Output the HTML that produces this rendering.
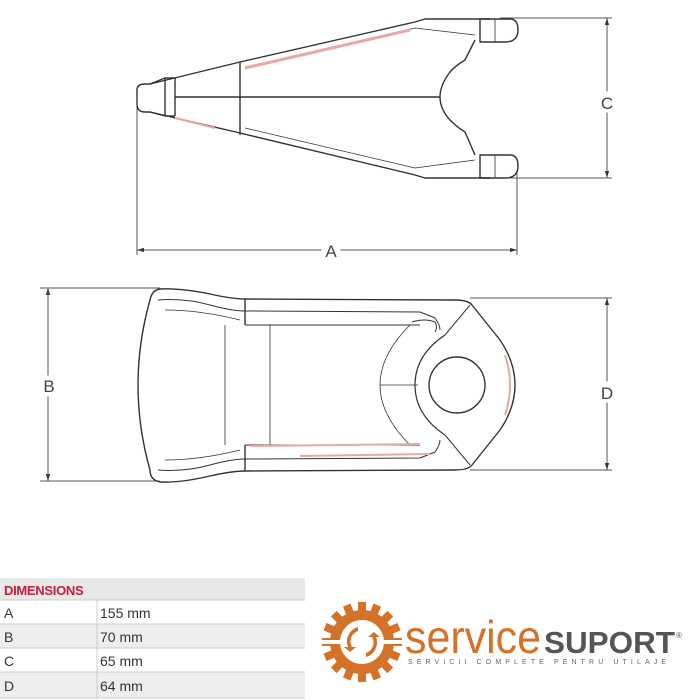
<!DOCTYPE html>
<html><head><meta charset="utf-8"><style>
body{margin:0;background:#fff;width:700px;height:700px;overflow:hidden}
svg{display:block}
</style></head><body>
<svg width="700" height="700" viewBox="0 0 700 700" xmlns="http://www.w3.org/2000/svg" font-family="Liberation Sans, sans-serif">
<defs>
<marker id="ar" viewBox="0 0 10 10" refX="10" refY="5" markerWidth="7" markerHeight="7" orient="auto-start-reverse"><path d="M0,2 L10,5 L0,8z" fill="#333"/></marker>
</defs>
<g stroke="#555" stroke-width="1" fill="none">
<line x1="137" y1="100" x2="137" y2="255"/>
<line x1="517" y1="170" x2="517" y2="255"/>
<line x1="500" y1="18" x2="612" y2="18"/>
<line x1="500" y1="178" x2="612" y2="178"/>
<line x1="40" y1="288" x2="160" y2="288"/>
<line x1="40" y1="481" x2="160" y2="481"/>
<line x1="470" y1="298" x2="612" y2="298"/>
<line x1="470" y1="470" x2="612" y2="470"/>
<line x1="137" y1="250" x2="517" y2="250" marker-start="url(#ar)" marker-end="url(#ar)"/>
<line x1="607" y1="18" x2="607" y2="178" marker-start="url(#ar)" marker-end="url(#ar)"/>
<line x1="48" y1="288" x2="48" y2="481" marker-start="url(#ar)" marker-end="url(#ar)"/>
<line x1="607" y1="298" x2="607" y2="470" marker-start="url(#ar)" marker-end="url(#ar)"/>
</g>
<g fill="#fff" stroke="#fff"><rect x="322" y="240" width="18" height="20"/><rect x="598" y="92" width="18" height="20"/><rect x="40" y="376" width="18" height="20"/><rect x="598" y="382" width="18" height="20"/></g>
<g font-size="17" fill="#444" text-anchor="middle">
<text x="331" y="257">A</text><text x="607" y="109">C</text><text x="49" y="392">B</text><text x="607" y="399">D</text>
</g>
<g stroke="#333" stroke-width="1.4" fill="none" stroke-linejoin="round">
<path d="M150,84 L240,62 L415,22 L425,19 L490,19"/>
<path d="M150,112 L240,133 L415,175 L425,178 L490,178"/>
<path d="M137,90 Q137,84 145,84 L150,84 M137,90 L137,104 Q137,112 145,112 L150,112"/>
<path d="M150,84 L165,78 L175,78 M150,112 L165,116 L175,116"/>
<path d="M165,78 L165,116 M175,78 L175,116"/>
<path d="M240,62 L240,135"/>
<path d="M175,97 L440,97"/>
<path d="M475,40 L465,60 Q455,66 450,72 Q440,85 440,97 Q440,109 450,120 Q458,128 465,132 L475,155"/>
<path d="M480,19 L510,19 Q518,19 518,30 Q518,42 505,42 L480,42 Z"/>
<path d="M480,155 L510,155 Q518,155 518,166 Q518,178 505,178 L480,178 Z"/>
<path d="M475,35 L415,28 L245,68 M475,160 L415,168 L245,128" stroke-width="0.8"/>
<path d="M495,19 L495,42 M495,155 L495,178" stroke-width="0.8"/>
</g>
<path d="M245,68 L410,30" stroke="#e8a8a8" stroke-width="3" fill="none"/>
<path d="M175,118 L215,128" stroke="#e8a8a8" stroke-width="2" fill="none"/>
<g stroke="#333" stroke-width="1.4" fill="none" stroke-linejoin="round">
<path d="M160,289 Q180,288 210,294 Q232,299 245,299 L455,300 Q468,300 472,305 L500,340 Q515,362 515,385 Q515,408 500,430 L472,465 Q468,470 455,470 L245,471 Q232,471 210,476 Q180,483 160,482 Q150,480 150,470 Q126,385 150,300 Q152,290 160,289Z"/>
<path d="M158,300 Q185,298 210,305 Q232,311 245,311 L420,312 L435,318 Q440,325 440,330" stroke-width="1"/>
<path d="M158,470 Q185,472 210,465 Q232,459 245,459 L420,458 L435,452 Q440,445 440,440" stroke-width="1"/>
<path d="M245,299 L245,325 M245,445 L245,471"/>
<path d="M245,325 L420,325 M245,445 L420,445" stroke-width="1"/>
<path d="M270,325 L270,445 M225,325 L225,445" stroke-width="0.8"/>
<path d="M410,325 Q380,355 380,385 Q380,415 410,445" stroke-width="0.8"/>
<path d="M445,335 Q415,355 415,385 Q415,415 445,435" stroke-width="1.2"/>
<path d="M445,335 L470,305 M445,435 L470,465" stroke-width="1"/>
<path d="M412,322 Q425,318 435,322 Q438,328 435,332" stroke-width="1"/>
<circle cx="457" cy="385" r="28"/>
<path d="M380,385 L418,385" stroke-width="0.8"/>
<path d="M165,310 Q200,310 240,320 M165,460 Q200,460 240,450" stroke-width="0.8"/>
</g>
<path d="M250,446 L420,444 M300,456 L430,454" stroke="#e8a8a8" stroke-width="2" fill="none"/>
<path d="M505,355 Q515,385 505,415" stroke="#e8a8a8" stroke-width="2" fill="none"/>
<rect x="0" y="578" width="305" height="22" fill="#e8e8e8"/>
<text x="4" y="595" font-size="13" fill="#c0203a" font-weight="bold" letter-spacing="-0.3">DIMENSIONS</text>
<rect x="0" y="624" width="305" height="24" fill="#eeeeee"/>
<rect x="0" y="672" width="305" height="26" fill="#eeeeee"/>
<g stroke="#ccc" stroke-width="1">
<line x1="0" y1="600" x2="305" y2="600"/><line x1="0" y1="624" x2="305" y2="624"/><line x1="0" y1="648" x2="305" y2="648"/><line x1="0" y1="672" x2="305" y2="672"/><line x1="0" y1="698" x2="305" y2="698"/>
<line x1="97" y1="600" x2="97" y2="698"/>
</g>
<g font-size="14" fill="#333">
<text x="4" y="618">A</text><text x="100" y="618">155 mm</text>
<text x="4" y="642">B</text><text x="100" y="642">70 mm</text>
<text x="4" y="666">C</text><text x="100" y="666">65 mm</text>
<text x="4" y="691">D</text><text x="100" y="691">64 mm</text>
</g>
<g transform="translate(362,642)" fill="#d4722a">
<g>
<rect x="-4" y="-40" width="8" height="10"/><rect x="-4" y="-40" width="8" height="10" transform="rotate(22.5)"/><rect x="-4" y="-40" width="8" height="10" transform="rotate(45)"/><rect x="-4" y="-40" width="8" height="10" transform="rotate(67.5)"/><rect x="-4" y="-40" width="8" height="10" transform="rotate(90)"/><rect x="-4" y="-40" width="8" height="10" transform="rotate(112.5)"/><rect x="-4" y="-40" width="8" height="10" transform="rotate(135)"/><rect x="-4" y="-40" width="8" height="10" transform="rotate(157.5)"/><rect x="-4" y="-40" width="8" height="10" transform="rotate(180)"/><rect x="-4" y="-40" width="8" height="10" transform="rotate(202.5)"/><rect x="-4" y="-40" width="8" height="10" transform="rotate(225)"/><rect x="-4" y="-40" width="8" height="10" transform="rotate(247.5)"/><rect x="-4" y="-40" width="8" height="10" transform="rotate(270)"/><rect x="-4" y="-40" width="8" height="10" transform="rotate(292.5)"/><rect x="-4" y="-40" width="8" height="10" transform="rotate(315)"/><rect x="-4" y="-40" width="8" height="10" transform="rotate(337.5)"/>
</g>
<circle r="32"/>
<circle r="22" fill="#fff"/>
<rect x="-42" y="-2" width="84" height="4" fill="#fff"/>
<path d="M-4,-15 A15,15 0 0 0 -14,5 L-18,5 L-12,10 L-6,5 L-10,5 A11,11 0 0 1 -4,-11Z"/>
<path d="M4,15 A15,15 0 0 0 14,-5 L18,-5 L12,-10 L6,-5 L10,-5 A11,11 0 0 1 4,11Z"/>
</g>
<text x="405" y="653" font-size="46" fill="#d4722a" textLength="136" lengthAdjust="spacingAndGlyphs">service</text>
<text x="544" y="653" font-size="31" font-weight="bold" fill="#555" textLength="131" lengthAdjust="spacingAndGlyphs">SUPORT</text>
<text x="676" y="638" font-size="8" fill="#555">®</text>
<text x="408" y="664" font-size="7" fill="#666" textLength="258" lengthAdjust="spacing">SERVICII COMPLETE PENTRU UTILAJE</text>
</svg>
</body></html>
